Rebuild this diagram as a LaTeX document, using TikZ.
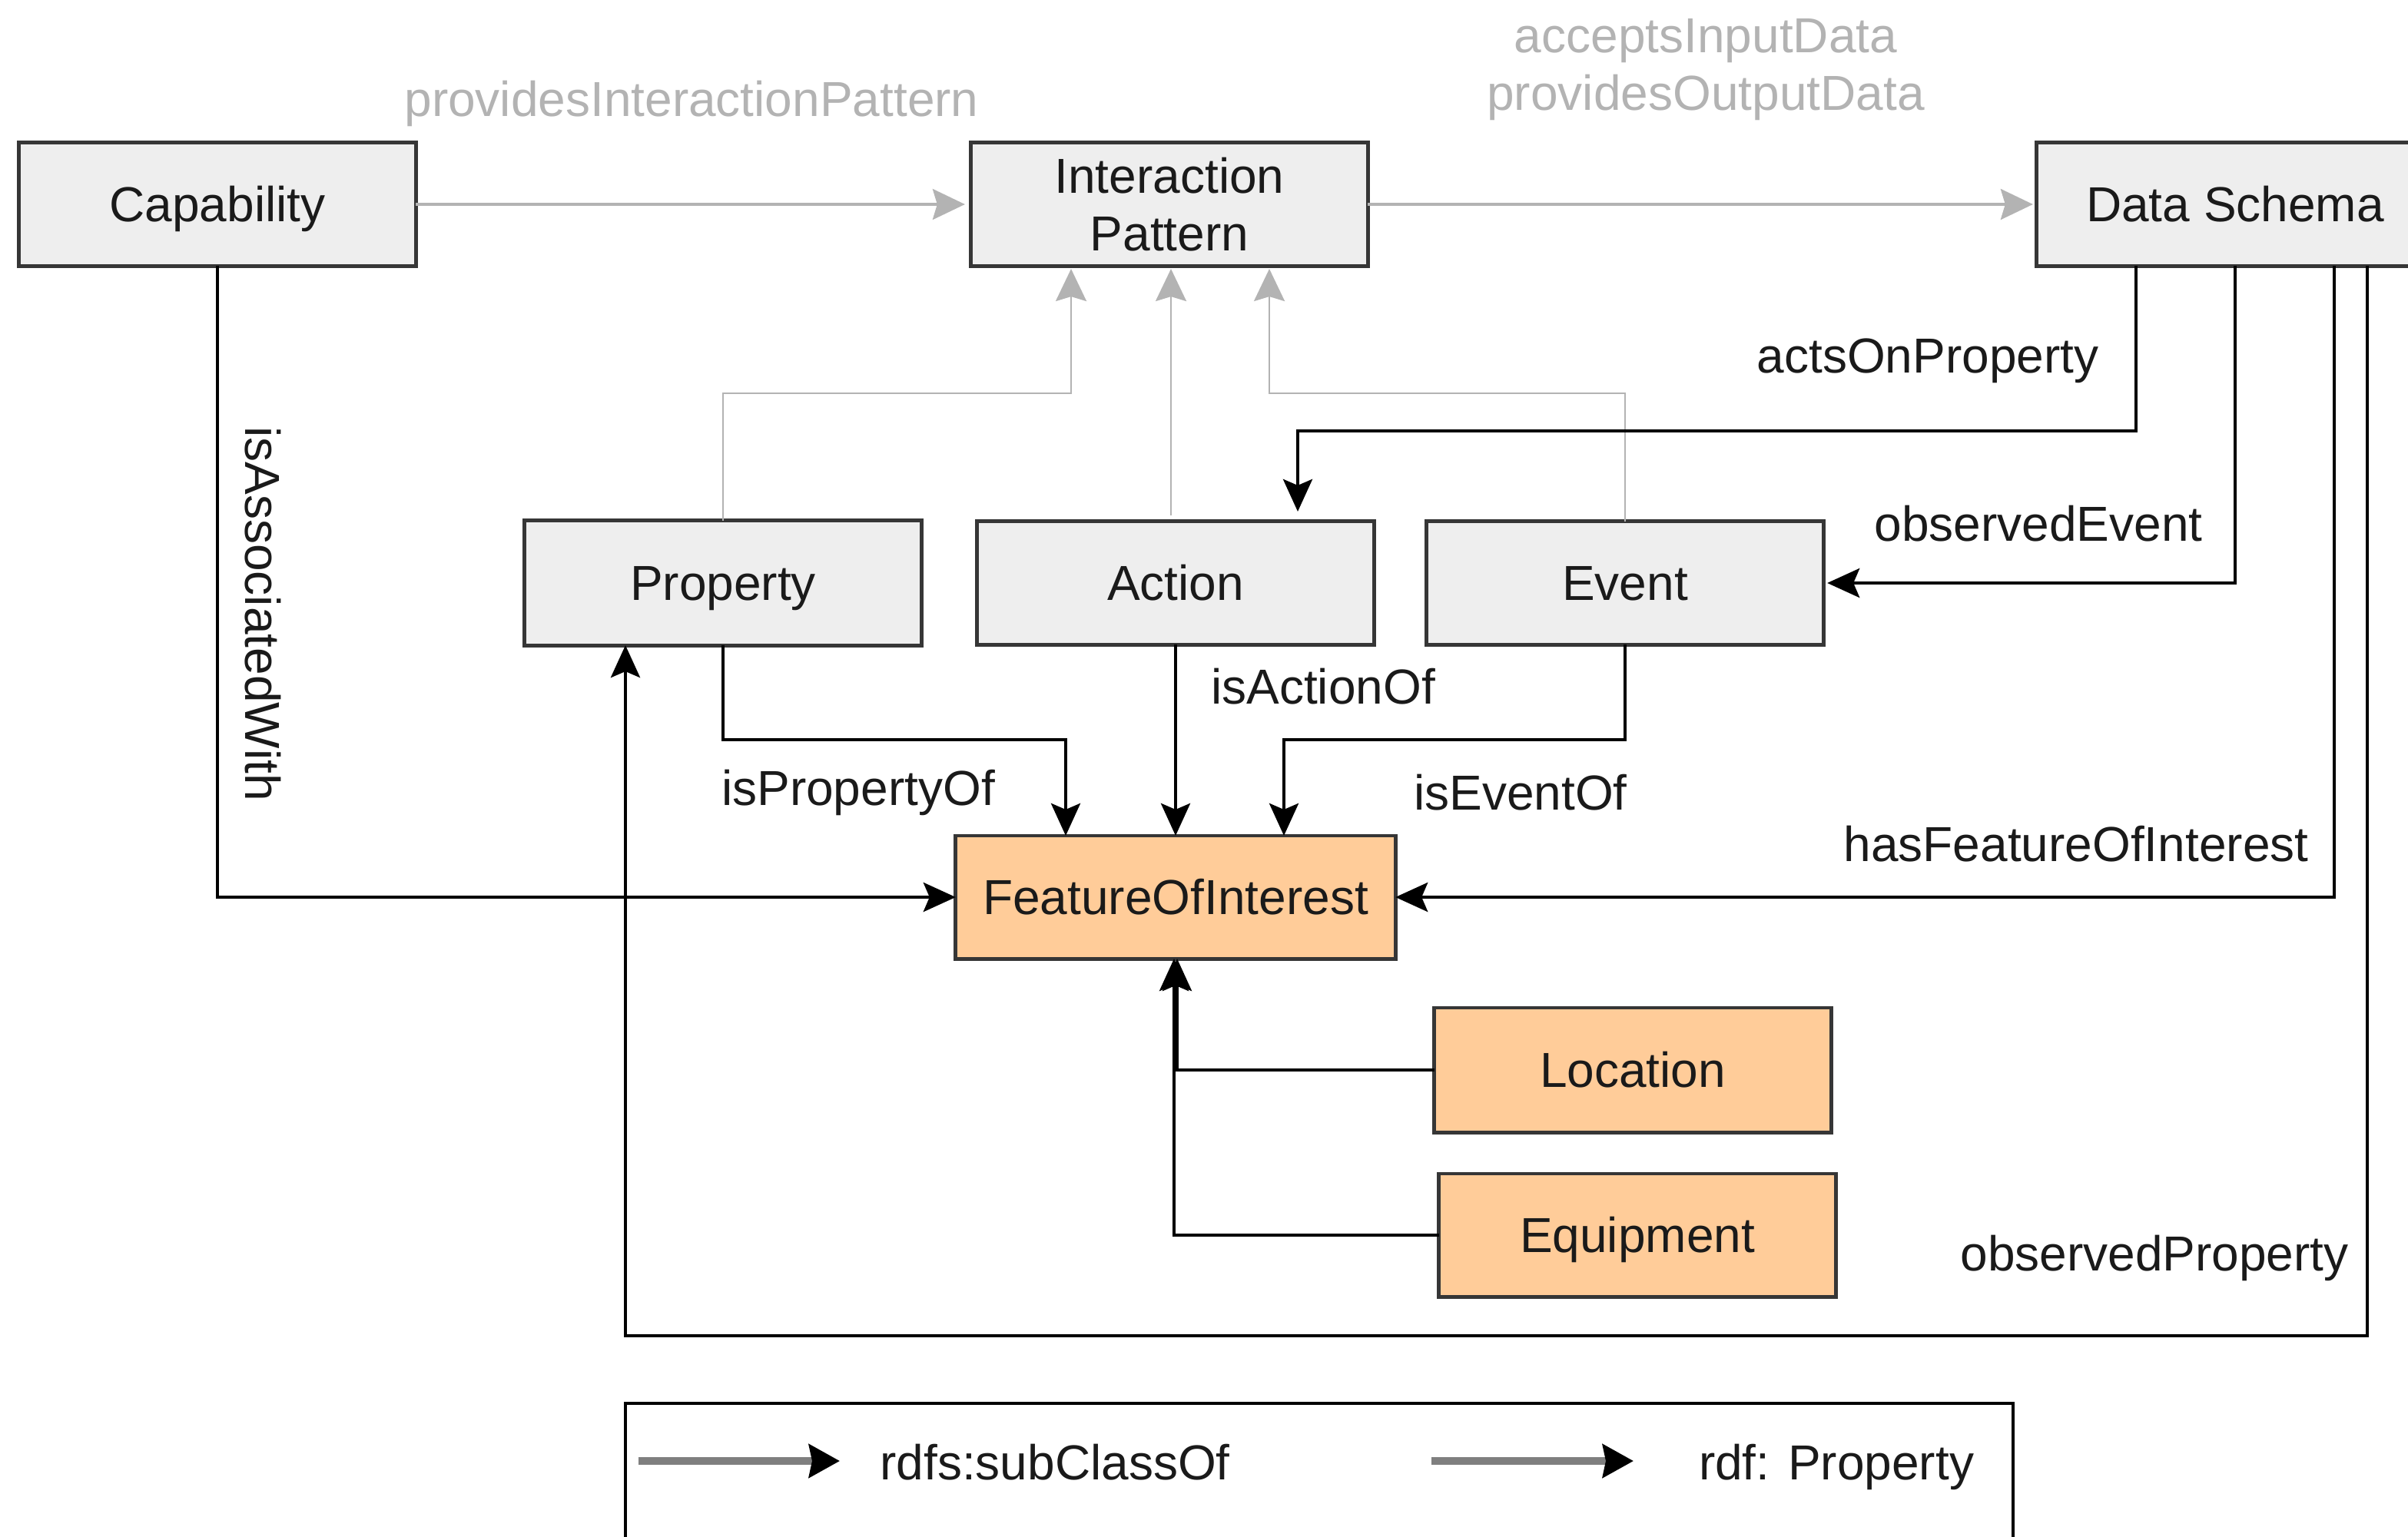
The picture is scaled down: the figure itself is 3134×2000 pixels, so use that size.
\documentclass[tikz,border=0pt]{standalone}
\usepackage{fontspec}
\setmainfont{Liberation Sans}
\usetikzlibrary{arrows.meta,calc}
\definecolor{boxgray}{HTML}{EEEEEE}
\definecolor{boxline}{HTML}{363636}
\definecolor{foiorange}{HTML}{FFCC99}
\definecolor{lightline}{HTML}{B3B3B3}
\definecolor{txt}{HTML}{1A1A1A}
\definecolor{legshaft}{HTML}{7F7F7F}
\begin{document}
\begin{tikzpicture}[x=0.01cm,y=-0.01cm,
  fnt/.style={font=\fontsize{18.2}{21.3}\selectfont},
  boxbase/.style={fnt, draw=boxline, line width=1.4pt, minimum width=5.16cm, minimum height=1.6cm, inner sep=0pt, outer sep=0pt, text=txt, align=center},
  graybox/.style={boxbase, fill=boxgray, text height=0.458cm, text depth=0pt},
  orangebox/.style={boxbase, fill=foiorange, text height=0.458cm, text depth=0pt},
  lbl/.style={fnt, inner sep=0pt, text height=0.458cm, text depth=0pt, text=txt},
  glbl/.style={lbl, text=lightline},
  rel/.style={draw=black, line width=1.25pt, -{Stealth[length=0.42cm,width=0.38cm,inset=0.08cm]}},
  sub/.style={draw=lightline, line width=0.9pt, -{Stealth[length=0.42cm,width=0.40cm,inset=0.06cm]}},
  legarrow/.style={draw=legshaft, line width=2.8pt, -{Stealth[black,length=0.4cm,width=0.43cm,inset=0.04cm]}},
]
\useasboundingbox (0,0) rectangle (3134,2000);
\clip (0,0) rectangle (3134,2000);

% boxes
\node[graybox] (cap) at (283,266) {Capability};
\node[boxbase, fill=boxgray] (ip) at (1522,266) {Interaction\\Pattern};
\node[graybox] (ds) at (2909,266) {Data Schema};
\node[graybox, minimum height=1.62cm] (prop) at (941,759) {Property};
\node[graybox] (act) at (1530,759) {Action};
\node[graybox] (evt) at (2115,759) {Event};
\node[orangebox, minimum width=5.72cm] (foi) at (1530,1168) {FeatureOfInterest};
\node[orangebox, minimum height=1.62cm] (loc) at (2125,1393) {Location};
\node[orangebox] (equ) at (2131,1608) {Equipment};

% gray (subclass-like) connectors
\draw[sub, shorten >=0.08cm] (cap.east) -- (ip.west);
\draw[sub, shorten >=0.05cm] (ip.east) -- (ds.west);
\draw[sub, line width=0.7pt, shorten >=0.04cm] (prop.north) -- (prop.north |- 0,512) -- (1394,512) -- (1394,0 |- ip.south);
\draw[sub, line width=0.7pt, shorten <=0.08cm, shorten >=0.04cm] (1524,0 |- act.north) -- (1524,0 |- ip.south);
\draw[sub, line width=0.7pt, shorten >=0.04cm] (evt.north) -- (evt.north |- 0,512) -- (1652,512) -- (1652,0 |- ip.south);

% black (property) connectors
\draw[rel, shorten >=0.13cm] (2780,0 |- ds.south) -- (2780,561) -- (1689,561) -- (1689,0 |- act.north);
\draw[rel, shorten >=0.05cm] (2909,0 |- ds.south) -- (2909,759) -- (evt.east);
\draw[rel] (3038,0 |- ds.south) -- (3038,1168) -- (foi.east);
\draw[rel] (3081,0 |- ds.south) -- (3081,1739) -- (814,1739) -- (814,0 |- prop.south);
\draw[rel] (cap.south) -- (cap.south |- 0,1168) -- (foi.west);
\draw[rel] (prop.south) -- (prop.south |- 0,963) -- (1387,963) -- (1387,0 |- foi.north);
\draw[rel] (act.south) -- (foi.north);
\draw[rel] (evt.south) -- (evt.south |- 0,963) -- (1671,963) -- (1671,0 |- foi.north);
\draw[rel] (loc.west) -- (1532,0 |- loc.west) -- (1532,0 |- foi.south);
\draw[rel] (equ.west) -- (1528,0 |- equ.west) -- (1528,0 |- foi.south);

% labels
\node[glbl] (lpip) at (900,129) {providesInteractionPattern};
\node[fnt, text=lightline, align=center, inner sep=0pt] (liod) at (2220,91) {acceptsInputData\\providesOutputData};
\node[lbl] (lact) at (2509,463) {actsOnProperty};
\node[lbl] (levt) at (2653,682) {observedEvent};
\node[lbl] (lfoi) at (2702,1099) {hasFeatureOfInterest};
\node[lbl] (lobp) at (2804,1632) {observedProperty};
\node[lbl] (liao) at (1722,894) {isActionOf};
\node[lbl] (lipo) at (1117,1026) {isPropertyOf};
\node[lbl] (lieo) at (1979,1032) {isEventOf};
\node[lbl, rotate=-90] (liaw) at (342,799) {isAssociatedWith};

% legend
\draw[line width=1.2pt, black] (814,1827) rectangle (2620,2080);
\coordinate (l1a) at (831,1902);
\coordinate (l1b) at (1093,1902);
\coordinate (l2a) at (1863,1902);
\coordinate (l2b) at (2126,1902);
\draw[legarrow] (l1a) -- (l1b);
\draw[legarrow] (l2a) -- (l2b);
\node[lbl] (lsub) at (1373,1904) {rdfs:subClassOf};
\node[lbl] (lprp) at (2390,1904) {rdf: Property};
\end{tikzpicture}
\end{document}
